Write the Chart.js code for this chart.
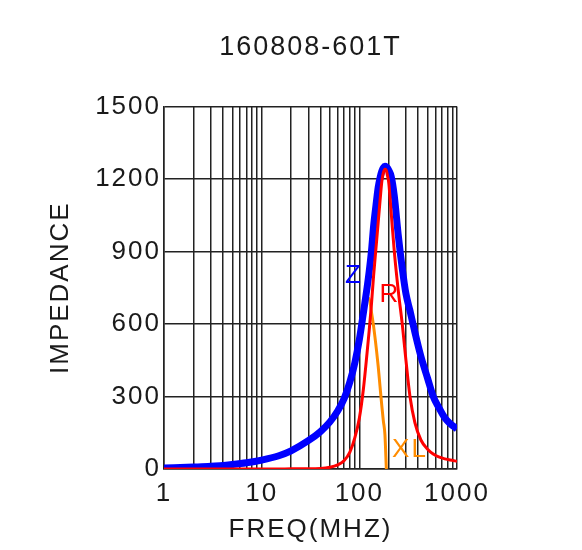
<!DOCTYPE html>
<html>
<head>
<meta charset="utf-8">
<title>160808-601T</title>
<script src="https://cdn.jsdelivr.net/npm/chart.js@4.4.1/dist/chart.umd.min.js"></script>
<style>
    html, body { margin: 0; padding: 0; background: #fff; }
    #wrap { width: 582px; height: 550px; }
</style>
</head>
<body>
<div id="wrap"><canvas id="myChart"></canvas></div>
<script>
// frequency points in MHz
const freq = [1, 2, 3, 5, 7, 10, 15, 20, 30, 40, 50, 60, 70, 80, 90, 100, 110, 120, 126, 133,
    140, 150, 156, 163, 170, 176, 183, 189, 195, 200, 212, 228, 250, 275, 300, 330, 371, 427,
    500, 571, 650, 752, 850, 1000];

const impedanceZ = [4, 8, 11, 19, 26, 37, 55, 75, 117, 155, 195, 240, 292, 360, 440, 535, 645, 750, 815, 900,
    1005, 1110, 1165, 1205, 1232, 1246, 1252, 1250, 1244, 1236, 1210, 1130, 970, 830, 725, 655, 565, 466,
    375, 300, 255, 211, 188, 166];

const resistanceR = [0, 0, 0, 0, 0, 0, 0, 1, 1, 2, 7, 17, 35, 70, 130, 210, 330, 480, 570, 680,
    800, 940, 1020, 1110, 1190, 1225, 1240, 1235, 1210, 1185, 1060, 900, 740, 600, 450, 300, 191, 120,
    82, 62, 50, 42, 37, 32];

const reactanceXL = [4, 8, 11, 19, 26, 37, 55, 75, 117, 155, 195, 239, 290, 352, 420, 520, 625, 700, 705, 650,
    590, 490, 425, 340, 260, 200, 140, 0, null, null, null, null, null, null, null, null, null, null,
    null, null, null, null, null, null];

const xGridValues = [1, 2, 3, 4, 5, 6, 7, 8, 9, 10, 20, 30, 40, 50, 60, 70, 80, 90,
    100, 200, 300, 400, 500, 600, 700, 800, 900, 1000];
const xLabelValues = [1, 10, 100, 1000];
const xTickLabels = ["1", "10", "100", "1000"];
const yTickValues = [0, 300, 600, 900, 1200, 1500];

// curve names, placed in data space
const curveLabels = [
    { text: "Z", f: 88, v: 800, color: "#0000ff" },
    { text: "R", f: 206, v: 719, color: "#ff0000" },
    { text: "XL", f: 330, v: 81, color: "#ff8c00" },
];

const FONT = "'Liberation Sans', Arial, sans-serif";
const TEXT = "#1a1a1a";
const GRID = "#222";

Chart.defaults.font.family = FONT;
Chart.defaults.color = TEXT;

const spacing = {
    id: "spacing",
    beforeDraw(chart) {
        chart.ctx.letterSpacing = "2px";
    },
};

const curveNames = {
    id: "curveNames",
    afterDatasetsDraw(chart) {
        const { ctx, scales } = chart;
        ctx.save();
        ctx.font = "26px " + FONT;
        ctx.textAlign = "center";
        ctx.textBaseline = "middle";
        curveLabels.forEach((l) => {
            ctx.fillStyle = l.color;
            ctx.fillText(l.text, scales.x.getPixelForValue(l.f), scales.y.getPixelForValue(l.v));
        });
        ctx.restore();
    },
};

const ctx = document.getElementById("myChart").getContext("2d");
new Chart(ctx, {
    type: "line",
    data: {
        labels: freq,
        datasets: [
            {
                label: "Z",
                data: impedanceZ,
                borderColor: "#0000ff",
                borderWidth: 7,
                order: 1,
            },
            {
                label: "R",
                data: resistanceR,
                borderColor: "#ff0000",
                borderWidth: 3,
                order: 0,
            },
            {
                label: "XL",
                data: reactanceXL,
                borderColor: "#ff8c00",
                borderWidth: 3,
                order: 2,
            },
        ],
    },
    options: {
        responsive: true,
        maintainAspectRatio: false,
        animation: false,
        layout: { padding: { left: 23, right: 125, top: 0, bottom: 0 } },
        elements: {
            point: { radius: 0 },
            line: { cubicInterpolationMode: "monotone", fill: false },
        },
        plugins: {
            legend: { display: false },
            tooltip: { enabled: false },
            title: {
                display: true,
                fullSize: false,
                text: "160808-601T",
                color: TEXT,
                font: { size: 27, weight: "normal" },
                padding: { top: 31, bottom: 43 },
            },
        },
        scales: {
            x: {
                type: "logarithmic",
                min: 1,
                max: 1000,
                afterBuildTicks: (scale) => {
                    scale.ticks = xGridValues.map((v) => ({ value: v }));
                },
                afterFit: (scale) => {
                    scale.height = 81;
                },
                ticks: {
                    autoSkip: false,
                    maxRotation: 0,
                    padding: 9,
                    color: TEXT,
                    font: { size: 26 },
                    callback: (value) => {
                        const i = xLabelValues.indexOf(value);
                        return i >= 0 ? xTickLabels[i] : "";
                    },
                },
                grid: { color: GRID, lineWidth: 1.5, drawTicks: false, tickLength: 0 },
                border: { display: true, color: GRID, width: 1.5 },
                title: {
                    display: true,
                    text: "FREQ(MHZ)",
                    color: TEXT,
                    font: { size: 26 },
                    padding: { top: 0, bottom: 5 },
                },
            },
            y: {
                min: 0,
                max: 1500,
                afterBuildTicks: (scale) => {
                    scale.ticks = yTickValues.map((v) => ({ value: v }));
                },
                afterFit: (scale) => {
                    scale.width = 141;
                },
                ticks: {
                    padding: 3,
                    color: TEXT,
                    font: { size: 26 },
                    callback: (value) => String(value),
                },
                grid: { color: GRID, lineWidth: 1.5, drawTicks: false, tickLength: 0 },
                border: { display: true, color: GRID, width: 1.5 },
                title: {
                    display: true,
                    text: "IMPEDANCE",
                    color: TEXT,
                    font: { size: 26 },
                    padding: { top: 22, bottom: 0 },
                },
            },
        },
    },
    plugins: [spacing, curveNames],
});
</script>
</body>
</html>
